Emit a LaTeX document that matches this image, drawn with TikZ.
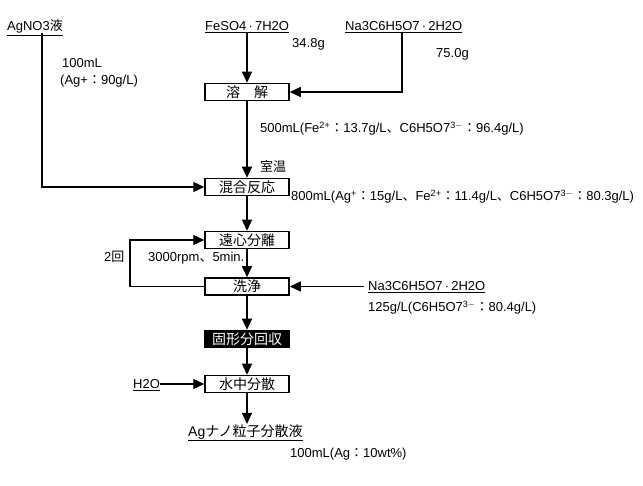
\documentclass[tikz,border=0pt]{standalone}
\usepackage{fontspec}
\setmainfont{Liberation Sans}
\newfontfamily\jpfont{Noto Sans CJK JP}
\newcommand{\jp}[1]{{\jpfont #1}}
\newcommand{\cl}{{\jpfont ：}}
\newcommand{\md}{\,·\,}
\usetikzlibrary{arrows.meta}
\begin{document}
\begin{tikzpicture}[x=1pt,y=-1pt,
  every node/.style={font=\fontsize{13}{15}\selectfont, inner sep=0pt},
  stepbox/.style={draw, line width=1.5pt, minimum width=84pt, minimum height=17pt, font=\fontsize{14}{15}\selectfont\jpfont},
  darkbox/.style={stepbox, fill=black, text=white},
  conn/.style={line width=1.1pt},
  arr/.style={conn, -{Triangle[length=11pt,width=10pt]}},
  ul/.style={anchor=base west}]
\useasboundingbox (0,0) rectangle (643,486);
% boxes
\node[stepbox] (dis) at (247,92) {溶\hspace{1em}解};
\node[stepbox] (mix) at (247,187) {混合反応};
\node[stepbox] (cen) at (247,240) {遠心分離};
\node[stepbox] (wash) at (247,286.5) {洗浄};
\node[darkbox] (rec) at (247,339) {固形分回収};
\node[stepbox] (dsp) at (247,384) {水中分散};
% sources
\node[ul] (ag) at (7,31) {\underline{AgNO3\jp{液}}};
\node[ul] (fe) at (205,31) {\underline{FeSO4\md 7H2O}};
\node[ul] (na) at (345,31) {\underline{Na3C6H5O7\md 2H2O}};
\node[ul] (na2) at (368,291) {\underline{Na3C6H5O7\md 2H2O}};
\node[ul] (h2o) at (133,389) {\underline{H2O}};
\node[ul] (prod) at (188,436) {\underline{\fontsize{14}{15}\selectfont Ag\jp{ナノ粒子分散液}}};
% labels
\node[ul] at (62,68) {100mL};
\node[ul] at (60,85) {(Ag+\cl 90g/L)};
\node[ul] at (292,48) {34.8g};
\node[ul] at (436,58) {75.0g};
\node[ul] at (260,133) {500mL(Fe\textsuperscript{2+}\cl 13.7g/L\jp{、}C6H5O7\textsuperscript{3$-$}\cl 96.4g/L)};
\node[ul] at (260,172) {\jp{室温}};
\node[ul] at (291,201) {800mL(Ag\textsuperscript{+}\cl 15g/L\jp{、}Fe\textsuperscript{2+}\cl 11.4g/L\jp{、}C6H5O7\textsuperscript{3$-$}\cl 80.3g/L)};
\node[ul] at (148,262) {3000rpm\jp{、}5min.};
\node[ul] at (104,262) {2\jp{回}};
\node[ul] at (368,312) {125g/L(C6H5O7\textsuperscript{3$-$}\cl 80.4g/L)};
\node[ul] at (290,457) {100mL(Ag\cl 10wt\%)};
% coordinates
\coordinate (loopB) at (130,240);
\coordinate (nastart) at (364,286.5);
% connectors
\draw[arr] (42,33) |- (mix.west);
\draw[arr] (fe.south -| dis.north) -- (dis.north);
\draw[arr] (402,33) |- (dis.east);
\draw[arr] (dis.south) -- (mix.north -| dis.south);
\draw[arr] (mix.south -| cen.north) -- (cen.north);
\draw[arr] (cen) -- (wash);
\draw[arr] (wash.west) -| (loopB) -- (cen.west);
\draw[arr] (nastart) -- (wash.east);
\draw[arr] (wash) -- (rec);
\draw[arr] (rec) -- (dsp);
\draw[arr] (h2o.east |- dsp.west) -- (dsp.west);
\draw[arr] (dsp.south) -- (247,424);
\end{tikzpicture}
\end{document}
